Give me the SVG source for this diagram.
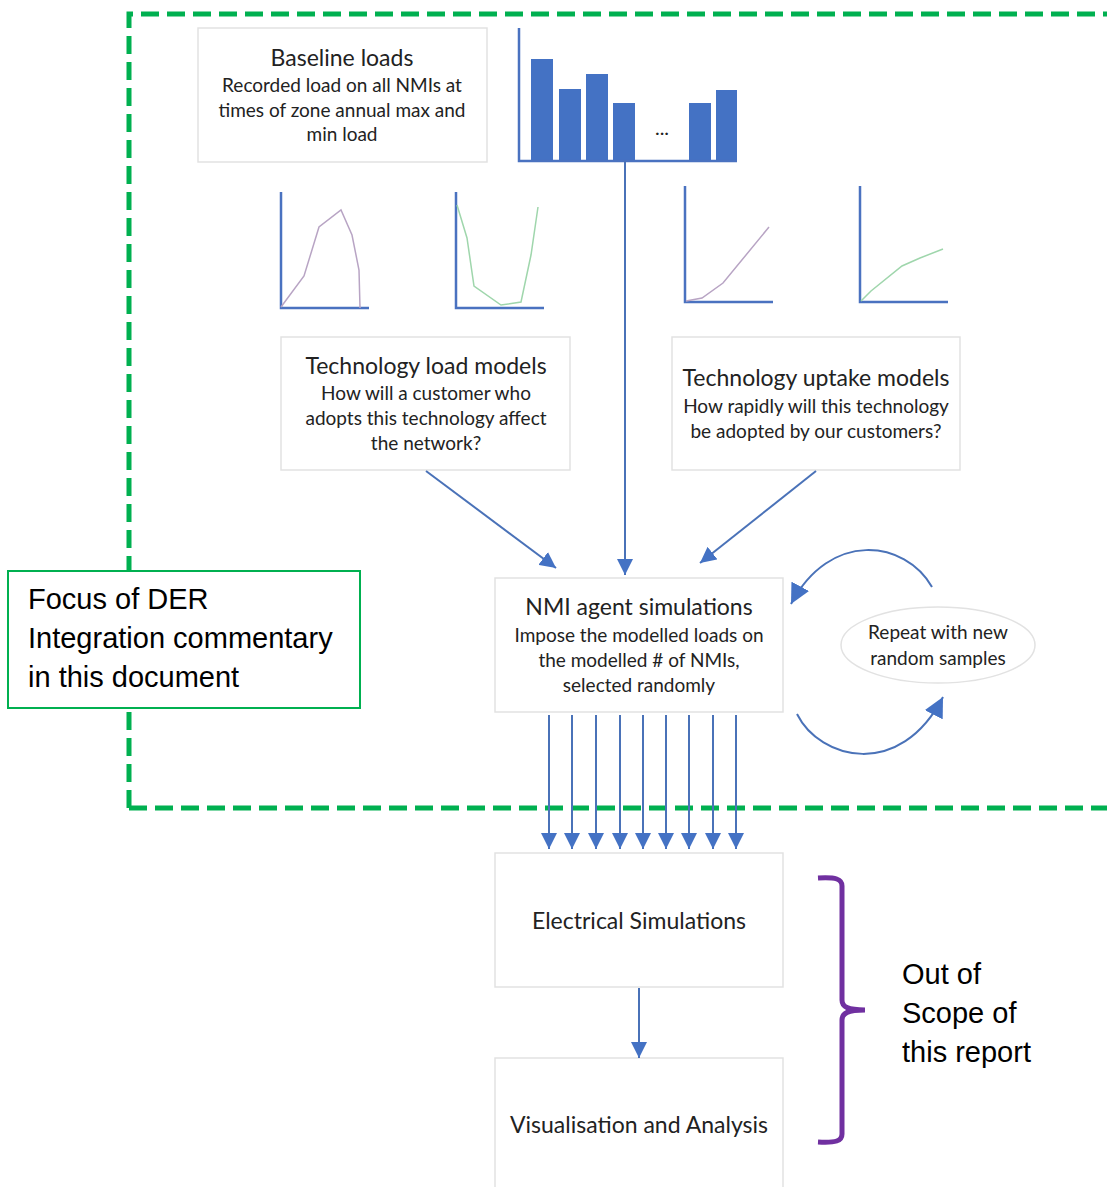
<svg xmlns="http://www.w3.org/2000/svg" width="1107" height="1187" viewBox="0 0 1107 1187">
<style>
.box{fill:#fff;stroke:#e2e2e2;stroke-width:1.5}
.t{font-family:Lato,"Open Sans",sans-serif;fill:#222;text-anchor:middle}
.h{font-size:23px}
.s{font-size:19px}
.ax{stroke:#4a72c0;stroke-width:2.5;fill:none}
.bar{fill:#4472c4}
.conn{stroke:#4a72b8;stroke-width:2;fill:none}
.arial{font-family:"Liberation Sans",Arial,sans-serif;font-size:29px;fill:#000}
</style>
<defs>
<marker id="ah" viewBox="0 0 10 10" refX="10" refY="5" markerWidth="8" markerHeight="8" markerUnits="strokeWidth" orient="auto">
<path d="M0,0 L10,5 L0,10 Z" fill="#4472c4"/>
</marker>
<marker id="ahb" viewBox="0 0 10 10" refX="10" refY="5" markerWidth="10" markerHeight="10" markerUnits="strokeWidth" orient="auto">
<path d="M0,0 L10,5 L0,10 Z" fill="#4472c4"/>
</marker>
</defs>
<rect width="1107" height="1187" fill="#fff"/>
<path id="scope" d="M129,808 L129,14 L1110,14 M129,808 L1110,808" fill="none" stroke="#00b050" stroke-width="5" stroke-dasharray="18 8"/>

<g id="baseline">
<rect class="box" x="198" y="28" width="289" height="134"/>
<text class="t h" x="342" y="66">Baseline loads</text>
<text class="t s" x="342" y="92">Recorded load on all NMIs at</text>
<text class="t s" x="342" y="117">times of zone annual max and</text>
<text class="t s" x="342" y="141">min load</text>
</g>

<g id="barchart">
<rect class="bar" x="531" y="59" width="22" height="102"/>
<rect class="bar" x="559" y="89" width="22" height="72"/>
<rect class="bar" x="586" y="74" width="22" height="87"/>
<rect class="bar" x="613" y="103" width="22" height="58"/>
<rect class="bar" x="689" y="103" width="22" height="58"/>
<rect class="bar" x="716" y="90" width="21" height="71"/>
<path class="ax" d="M519,28 L519,161 L737,161"/>
<text class="t" x="662" y="135" font-size="20">...</text>
</g>

<g id="chart-load-1">
<path class="ax" d="M281,192 L281,308 L369,308"/>
<polyline points="281,307 304,276 319,227 341,210 352,235 359,270 360,308" fill="none" stroke="#b8a4c4" stroke-width="1.5"/>
</g>
<g id="chart-load-2">
<path class="ax" d="M456,192 L456,308 L544,308"/>
<polyline points="457,205 467,238 474,286 501,305 521,302 531,255 538,207" fill="none" stroke="#9fd6ac" stroke-width="1.5"/>
</g>
<g id="chart-uptake-1">
<path class="ax" d="M685,186 L685,302 L773,302"/>
<polyline points="686,301 702,298 723,283 769,227" fill="none" stroke="#b8a4c4" stroke-width="1.5"/>
</g>
<g id="chart-uptake-2">
<path class="ax" d="M860,186 L860,302 L948,302"/>
<polyline points="861,301 871,291 902,266 920,258 943,249" fill="none" stroke="#9fd6ac" stroke-width="1.5"/>
</g>

<g id="tech-load">
<rect class="box" x="281" y="337" width="289" height="133"/>
<text class="t h" x="426" y="374">Technology load models</text>
<text class="t s" x="426" y="400">How will a customer who</text>
<text class="t s" x="426" y="425">adopts this technology affect</text>
<text class="t s" x="426" y="450">the network?</text>
</g>

<g id="tech-uptake">
<rect class="box" x="672" y="337" width="288" height="133"/>
<text class="t h" x="816" y="386">Technology uptake models</text>
<text class="t s" x="816" y="413">How rapidly will this technology</text>
<text class="t s" x="816" y="438">be adopted by our customers?</text>
</g>

<g id="nmi">
<rect class="box" x="495" y="578" width="288" height="134"/>
<text class="t h" x="639" y="615">NMI agent simulations</text>
<text class="t s" x="639" y="642">Impose the modelled loads on</text>
<text class="t s" x="639" y="667">the modelled # of NMIs,</text>
<text class="t s" x="639" y="692">selected randomly</text>
</g>

<g id="repeat">
<ellipse cx="938" cy="645" rx="97" ry="38" fill="#fff" stroke="#e2e2e2" stroke-width="1.5"/>
<text class="t s" x="938" y="639">Repeat with new</text>
<text class="t s" x="938" y="665">random samples</text>
</g>

<g id="electrical">
<rect class="box" x="495" y="853" width="288" height="134"/>
<text class="t h" x="639" y="929">Electrical Simulations</text>
</g>

<g id="visualisation">
<rect class="box" x="495" y="1058" width="288" height="140"/>
<text class="t h" x="639" y="1133">Visualisation and Analysis</text>
</g>

<g id="connectors">
<line class="conn" x1="625" y1="161" x2="625" y2="575" marker-end="url(#ah)"/>
<line class="conn" x1="426" y1="471" x2="556" y2="568" marker-end="url(#ah)"/>
<line class="conn" x1="816" y1="471" x2="700" y2="563" marker-end="url(#ah)"/>
<path class="conn" d="M932,587 C905,540 830,530 791,604" marker-end="url(#ahb)"/>
<path class="conn" d="M797,714 C820,760 900,780 943,697" marker-end="url(#ahb)"/>
<line class="conn" x1="549" y1="715" x2="549" y2="849" marker-end="url(#ah)"/>
<line class="conn" x1="572" y1="715" x2="572" y2="849" marker-end="url(#ah)"/>
<line class="conn" x1="596" y1="715" x2="596" y2="849" marker-end="url(#ah)"/>
<line class="conn" x1="620" y1="715" x2="620" y2="849" marker-end="url(#ah)"/>
<line class="conn" x1="643" y1="715" x2="643" y2="849" marker-end="url(#ah)"/>
<line class="conn" x1="666" y1="715" x2="666" y2="849" marker-end="url(#ah)"/>
<line class="conn" x1="689" y1="715" x2="689" y2="849" marker-end="url(#ah)"/>
<line class="conn" x1="713" y1="715" x2="713" y2="849" marker-end="url(#ah)"/>
<line class="conn" x1="736" y1="715" x2="736" y2="849" marker-end="url(#ah)"/>
<line class="conn" x1="639" y1="988" x2="639" y2="1058" marker-end="url(#ah)"/>
</g>

<g id="focus">
<rect x="8" y="571" width="352" height="137" fill="#fff" stroke="#00b050" stroke-width="2"/>
<text class="arial" x="28" y="609">Focus of DER</text>
<text class="arial" x="28" y="648">Integration commentary</text>
<text class="arial" x="28" y="687">in this document</text>
</g>

<g id="out-of-scope">
<path d="M818,878 C836,877 842,879 842,886 L842,1000 C842,1007 848,1010 865,1010 M842,1020 C842,1013 848,1010 865,1010 M842,1020 L842,1134 C842,1141 836,1143 818,1142" fill="none" stroke="#7030a0" stroke-width="5"/>
<text class="arial" x="902" y="984">Out of</text>
<text class="arial" x="902" y="1023">Scope of</text>
<text class="arial" x="902" y="1062">this report</text>
</g>
</svg>
